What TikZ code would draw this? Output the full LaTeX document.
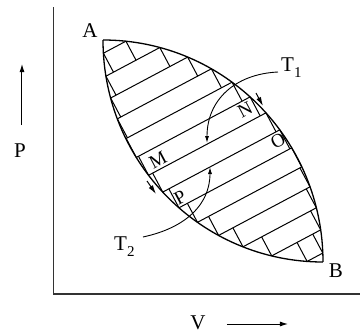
\documentclass[tikz,border=0pt]{standalone}
\usepackage{fontspec}
\setmainfont{Liberation Serif}
\usetikzlibrary{arrows.meta}
\newcommand\hang{28}
\newcommand\ea{220}
\newcommand\eb{222}
\newcommand\tzero{95.5}
\newcommand\tstep{21.5}
% intersection of hatch line (normal offset #1) with ellipse centred (#2,#3); #4 sign; result in #5
\newcommand\lensroot[5]{%
  \edef\lrp{\fpeval{(#1)*sind(\hang)-(#2)}}%
  \edef\lrq{\fpeval{(#1)*cosd(\hang)-(#3)}}%
  \edef\lrA{\fpeval{cosd(\hang)^2/\ea^2+sind(\hang)^2/\eb^2}}%
  \edef\lrB{\fpeval{(\lrp)*cosd(\hang)/\ea^2-(\lrq)*sind(\hang)/\eb^2}}%
  \edef\lrC{\fpeval{(\lrp)^2/\ea^2+(\lrq)^2/\eb^2-1}}%
  \edef#5{\fpeval{round((-(\lrB) #4 sqrt((\lrB)^2-(\lrA)*(\lrC)))/(\lrA),4)}}%
}
\newcommand\tsx[2]{\fpeval{round((#1)*sind(\hang)+(#2)*cosd(\hang),3)}}
\newcommand\tsy[2]{\fpeval{round((#1)*cosd(\hang)-(#2)*sind(\hang),3)}}
\tikzset{
  lens/.style={line width=1.3pt},
  hatch/.style={line width=1pt},
  axis/.style={line width=1.5pt, black!80},
  lab/.style={font=\fontsize{21}{23}\selectfont, inner sep=0pt},
  small/.style={font=\fontsize{19}{21}\selectfont, inner sep=0pt, rotate=28},
  tip/.style={-{Latex[length=7pt,width=4pt]}, line width=0.9pt},
  btip/.style={-{Latex[length=9pt,width=5pt]}, line width=1pt},
  bigtip/.style={-{Latex[length=8pt,width=5pt]}, line width=1pt},
}
\begin{document}
\begin{tikzpicture}[x=1pt,y=-1pt]
\useasboundingbox (0,0) rectangle (360,335);
% axes
\coordinate (top) at (53.5,7);
\coordinate (O) at (53.5,294);
\coordinate (right) at (360,294);
\draw[axis] (top) -- (O) -- (right);
% axis labels
\node[lab] (Plab) at (20,151) {P};
\node[lab] (Vlab) at (198,323) {V};
\coordinate (pa0) at (22,125);
\coordinate (pa1) at (22,64);
\draw[bigtip] (pa0) -- (pa1);
\coordinate (va0) at (227,324);
\coordinate (va1) at (288,324);
\draw[bigtip] (va0) -- (va1);
% lens
\coordinate (A) at (103,40);
\coordinate (B) at (323,262);
\draw[lens] (A) arc[start angle=-90, end angle=0, x radius=\ea, y radius=\eb];
\draw[lens] (A) arc[start angle=180, end angle=90, x radius=\ea, y radius=\eb];
% hatch lines (adiabats)
\foreach \k in {0,...,13} {
  \edef\ta{\fpeval{\tzero+\k*\tstep}}
  \lensroot{\ta}{103}{262}{+}{\sR}
  \lensroot{\ta}{323}{40}{-}{\sL}
  \edef\xa{\tsx{\ta}{\sL}}\edef\ya{\tsy{\ta}{\sL}}
  \edef\xb{\tsx{\ta}{\sR}}\edef\yb{\tsy{\ta}{\sR}}
  \draw[hatch] (\xa,\ya) -- (\xb,\yb);
}
% short isotherm segments
\foreach \k in {0,...,12} {
  \edef\ta{\fpeval{\tzero+\k*\tstep}}
  \edef\tb{\fpeval{\tzero+(\k+1)*\tstep}}
  \lensroot{\ta}{103}{262}{+}{\sRa}
  \lensroot{\ta}{323}{40}{-}{\sLa}
  \lensroot{\tb}{103}{262}{+}{\sRb}
  \lensroot{\tb}{323}{40}{-}{\sLb}
  \edef\sl{\fpeval{max(\sLa,\sLb)}}
  \edef\sr{\fpeval{min(\sRa,\sRb)}}
  \edef\xa{\tsx{\ta}{\sl}}\edef\ya{\tsy{\ta}{\sl}}
  \edef\xb{\tsx{\tb}{\sl}}\edef\yb{\tsy{\tb}{\sl}}
  \draw[hatch] (\xa,\ya) -- (\xb,\yb);
  \edef\xa{\tsx{\ta}{\sr}}\edef\ya{\tsy{\ta}{\sr}}
  \edef\xb{\tsx{\tb}{\sr}}\edef\yb{\tsy{\tb}{\sr}}
  \draw[hatch] (\xa,\ya) -- (\xb,\yb);
}
% arrows on the boundary
\coordinate (n0) at (256,93);
\coordinate (n1) at (263,106);
\draw[btip] (n0) -- (n1);
\coordinate (m0) at (147,181);
\coordinate (m1) at (156,194);
\draw[btip] (m0) -- (m1);
% T1 and T2 curves
\node[lab, anchor=west] (T1) at (281,68) {T\raisebox{-6pt}{\fontsize{15}{15}\selectfont 1}};
\node[lab, anchor=west] (T2) at (114,247) {T\raisebox{-6pt}{\fontsize{15}{15}\selectfont 2}};
\coordinate (t1s) at (278,72);
\coordinate (t1e) at (207,143);
\draw[tip] (t1s) .. controls (235,74) and (207,100) .. (t1e);
\coordinate (t2s) at (143,237);
\coordinate (t2e) at (210,167);
\draw[tip] (t2s) .. controls (185,228) and (210,205) .. (t2e);
% point labels
\node[lab] (Alab) at (90,31) {A};
\node[lab] (Blab) at (336,271) {B};
\node[small] (M) at (158,160) {M};
\node[small] (N) at (245,110) {N};
\node[small] (Olab) at (278,141) {O};
\node[small] (Pt) at (180,198) {P};
\end{tikzpicture}
\end{document}
